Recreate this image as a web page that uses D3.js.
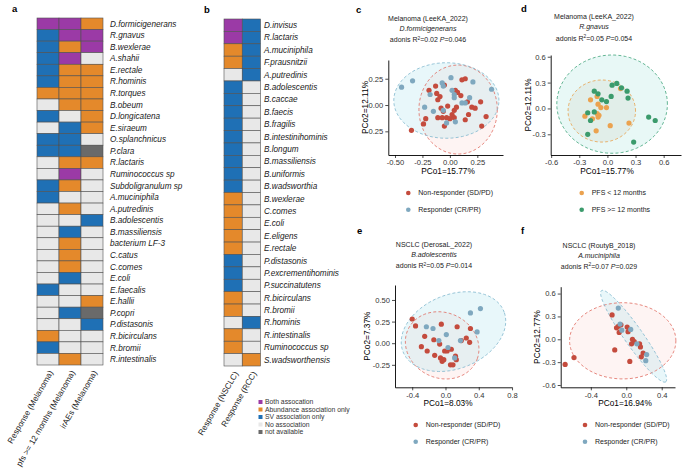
<!DOCTYPE html>
<html>
<head>
<meta charset="utf-8">
<script src="https://cdn.jsdelivr.net/npm/d3@7"></script>
<style>
  body { margin: 0; background: #fff; }
  svg { font-family: Arial, "Liberation Sans", sans-serif; }
</style>
</head>
<body>
<svg id="fig" width="685" height="469"></svg>
<script>
// ---------------- panel a : melanoma heatmap ----------------
// codes: P both, O abundance only, B SV only, G no association, D not available
const speciesA = ['D.formicigenerans', 'R.gnavus', 'B.wexlerae', 'A.shahii', 'E.rectale', 'R.hominis',
  'R.torques', 'B.obeum', 'D.longicatena', 'E.siraeum', 'O.splanchnicus', 'P.clara', 'R.lactaris',
  'Ruminococcus sp', 'Subdoligranulum sp', 'A.muciniphila', 'A.putredinis', 'B.adolescentis',
  'B.massiliensis', 'bacterium LF-3', 'C.catus', 'C.comes', 'E.coli', 'E.faecalis', 'E.hallii',
  'P.copri', 'P.distasonis', 'R.bicirculans', 'R.bromii', 'R.intestinalis'];
const columnsA = ['Response (Melanoma)', 'pfs >= 12 months (Melanoma)', 'irAEs (Melanoma)'];
const respMelanoma = ['P','B','B','B','B','B','O','G','B','G','B','B','G','G','B',
                      'B','G','G','G','G','G','G','G','B','G','G','G','O','B','G'];
const pfsMelanoma  = ['P','P','O','P','O','O','O','O','G','B','B','B','O','P','O',
                      'G','O','G','B','O','O','O','B','G','G','B','G','G','G','O'];
const iraeMelanoma = ['O','P','P','G','O','O','O','O','O','O','G','D','O','G','G',
                      'G','G','B','G','G','G','G','G','G','O','D','B','G','G','G'];

// ---------------- panel b : NSCLC / RCC heatmap ----------------
const speciesB = ['D.invisus', 'R.lactaris', 'A.muciniphila', 'F.prausnitzii', 'A.putredinis',
  'B.adolescentis', 'B.caccae', 'B.faecis', 'B.fragilis', 'B.intestinihominis', 'B.longum',
  'B.massiliensis', 'B.uniformis', 'B.wadsworthia', 'B.wexlerae', 'C.comes', 'E.coli', 'E.eligens',
  'E.rectale', 'P.distasonis', 'P.excrementihominis', 'P.succinatutens', 'R.bicirculans', 'R.bromii',
  'R.hominis', 'R.intestinalis', 'Ruminococcus sp', 'S.wadsworthensis'];
const columnsB = ['Response (NSCLC)', 'Response (RCC)'];
const respNSCLC = ['P','P','O','O','G','B','B','B','B','B','B','B','B','B',
                   'O','O','O','O','O','B','B','B','O','O','G','O','O','G'];
const respRCC   = ['B','B','B','B','B','G','G','G','G','G','G','G','G','G',
                   'G','G','G','G','G','G','G','G','G','G','B','G','G','O'];

const assocCodes  = ['P', 'O', 'B', 'G', 'D'];
const assocLabels = ['Both assocation', 'Abundance association only', 'SV association only',
                     'No association', 'not available'];

// ---------------- panels c-f : PCoA scatter (PCo1, PCo2) ----------------
const cNonResponder = [[-0.19,0.14],[-0.13,0.18],[-0.12,0.11],[-0.05,0.19],[-0.09,0.08],[0.05,0.14],
  [0.07,0.12],[0.11,0.24],[0.14,0.25],[-0.11,0.05],[-0.08,-0.03],[-0.06,-0.06],[-0.02,-0.01],
  [0.04,-0.05],[0.10,0.09],[0.16,0.03],[0.20,-0.02],[0.23,-0.03],[0.28,0.03],[0.14,-0.14],
  [0.02,-0.09],[-0.11,-0.12],[-0.07,-0.12],[-0.03,-0.12],[0.00,-0.13],[0.04,-0.12],[-0.22,-0.13],
  [-0.24,-0.18],[-0.35,-0.24],[-0.05,-0.20],[0.29,-0.20],[0.33,-0.11],[0.17,-0.09],[0.06,-0.02]];
const cResponder = [[-0.44,0.17],[-0.34,0.23],[-0.18,0.10],[-0.07,0.21],[-0.06,0.18],[0.01,0.26],
  [0.02,0.14],[0.04,0.10],[0.04,0.07],[0.11,0.02],[0.14,0.02],[0.18,0.07],[0.21,0.22],[0.38,0.15],
  [-0.23,-0.02],[-0.15,-0.06],[-0.06,-0.05],[-0.03,-0.17],[0.05,-0.16]];

const dPfsShort = [[-0.18,0.10],[-0.11,0.14],[-0.10,0.05],[-0.07,0.01],[-0.11,-0.06],[-0.10,-0.10],
  [-0.24,-0.09],[-0.16,-0.12],[-0.01,0.01],[-0.12,-0.26],[0.03,-0.20],[0.14,0.23],[0.23,-0.17],
  [-0.09,-0.08]];
const dPfsLong = [[-0.14,0.20],[-0.10,0.17],[-0.06,0.10],[-0.01,0.08],[0.04,0.14],[0.05,0.27],
  [0.10,0.29],[0.15,0.24],[0.21,0.20],[0.22,0.12],[-0.21,-0.05],[-0.18,-0.14],[-0.14,-0.04],
  [-0.21,-0.30],[0.44,-0.10],[0.51,-0.14],[0.28,-0.39]];

const eNonResponder = [[-0.40,0.28],[-0.36,0.20],[-0.05,0.22],[0.14,0.19],[0.30,0.17],[-0.25,0.08],
  [-0.14,0.04],[-0.29,-0.04],[-0.22,-0.09],[-0.07,-0.01],[-0.01,-0.09],[0.02,-0.09],[0.07,-0.07],
  [-0.13,-0.14],[-0.06,-0.17],[-0.04,-0.21],[-0.02,-0.19],[0.06,-0.25],[0.09,-0.25],[0.13,-0.19],
  [0.12,-0.15],[0.19,0.03],[0.25,0.06],[0.29,0.01]];
const eResponder = [[0.42,0.40],[0.30,0.35],[0.38,0.13],[-0.23,0.19],[-0.15,0.17],[0.01,0.10],
  [-0.08,0.03],[0.03,-0.05],[0.18,0.03],[0.11,-0.17]];

const fNonResponder = [[-0.16,0.32],[-0.11,0.15],[-0.09,0.17],[-0.06,0.19],[-0.08,0.09],[0.01,0.16],
  [0.02,0.10],[0.07,0.00],[0.09,-0.03],[0.06,-0.06],[0.15,-0.06],[0.16,-0.10],[0.19,-0.18],
  [0.17,-0.23],[-0.13,-0.14],[0.04,-0.29],[-0.59,-0.24],[-0.69,-0.33]];
const fResponder = [[-0.09,0.41],[-0.05,0.12],[0.05,0.13],[0.12,-0.06],[0.23,-0.20],[0.22,-0.28],
  [-0.07,0.20]];

// 95% ellipses: centre, semi-axes, rotation (deg)
const cEllipses = [[0.075,-0.043,0.357,0.423,0], [-0.032,0.043,0.479,0.359,0]];
const dEllipses = [[-0.06,-0.03,0.36,0.36,0], [0.05,0.05,0.59,0.57,0]];
const eEllipses = [[-0.04,-0.025,0.45,0.38,-20], [0.096,0.134,0.65,0.43,20]];
const fEllipses = [[-0.04,-0.02,0.60,0.50,0], [0.083,0.04,0.70,0.11,-59]];

const respLabels = ['Non-responder (SD/PD)', 'Responder (CR/PR)'];
const pfsLabels = ['PFS < 12 months', 'PFS >= 12 months'];

// ------------------------------------------------------------
const svg = d3.select('#fig');
const assocColor = d3.scaleOrdinal()
  .domain(assocCodes)
  .range(['#9b3aa6', '#e4892b', '#1f70b5', '#e8e8e8', '#6a6a6a']);

function drawHeat(species, columns, values, x0, x1, y0, y1, labelX) {
  const g = svg.append('g');
  const x = d3.scaleBand().domain(columns).range([x0, x1]);
  const y = d3.scaleBand().domain(species).range([y0, y1]);

  columns.forEach((col, ci) => {
    g.selectAll(null)
      .data(species)
      .enter().append('rect')
      .attr('x', x(col))
      .attr('y', d => y(d))
      .attr('width', x.bandwidth())
      .attr('height', y.bandwidth())
      .attr('fill', (d, i) => assocColor(values[ci][i]))
      .attr('stroke', '#505050')
      .attr('stroke-width', 0.6);
  });

  g.selectAll(null)
    .data(species)
    .enter().append('text')
    .attr('x', labelX)
    .attr('y', d => y(d) + y.bandwidth() / 2)
    .attr('dy', '0.35em')
    .style('font-size', '8.2px')
    .style('font-style', 'italic')
    .style('fill', '#1a1a1a')
    .text(d => d);

  // rotated column names under the grid
  g.selectAll(null)
    .data(columns)
    .enter().append('text')
    .attr('transform', d => `translate(${x(d) + x.bandwidth() / 2 + 3},${y1 + 6}) rotate(-60)`)
    .attr('text-anchor', 'end')
    .attr('dy', '0.35em')
    .style('font-size', '8.2px')
    .style('fill', '#1a1a1a')
    .text(d => d);
}

drawHeat(speciesA, columnsA, [respMelanoma, pfsMelanoma, iraeMelanoma], 37, 103, 18, 365, 110);
drawHeat(speciesB, columnsB, [respNSCLC, respRCC], 224, 260.5, 19, 366, 264);

// heatmap legend
const legA = svg.append('g');
assocCodes.forEach((c, i) => {
  legA.append('rect')
    .attr('x', 258.5).attr('y', 400 + i * 7.5)
    .attr('width', 4).attr('height', 4)
    .attr('fill', assocColor(c));
  legA.append('text')
    .attr('x', 265).attr('y', 402 + i * 7.5)
    .attr('dy', '0.35em')
    .style('font-size', '6.8px')
    .style('fill', '#333')
    .text(assocLabels[i]);
});

function ellipsePath(e, x, y) {
  const [cx, cy, a, b, deg] = e;
  const th = deg * Math.PI / 180;
  const pts = d3.range(0, 361, 4).map(t => {
    const r = t * Math.PI / 180;
    return [cx + a * Math.cos(r) * Math.cos(th) - b * Math.sin(r) * Math.sin(th),
            cy + a * Math.cos(r) * Math.sin(th) + b * Math.sin(r) * Math.cos(th)];
  });
  return d3.line().x(d => x(d[0])).y(d => y(d[1]))(pts) + 'Z';
}

function drawPcoa(p) {
  const g = svg.append('g');
  const x = d3.scaleLinear().domain(p.xDomain).range([p.left, p.right]);
  const y = d3.scaleLinear().domain(p.yDomain).range([p.bottom, p.top]);

  // titles
  p.titles.forEach((t, i) => {
    const tx = g.append('text')
      .attr('x', p.titleX).attr('y', p.titleY[i])
      .attr('text-anchor', 'middle')
      .style('font-size', '7px')
      .style('fill', '#1a1a1a');
    if (i === 1) tx.style('font-style', 'italic').text(t);
    else if (i === 2) {
      tx.append('tspan').text('adonis R');
      tx.append('tspan').attr('dy', -2.5).style('font-size', '4.8px').text('2');
      tx.append('tspan').attr('dy', 2.5).text('=' + t[0] + ' ');
      tx.append('tspan').style('font-style', 'italic').text('P');
      tx.append('tspan').text('=' + t[1]);
    } else tx.text(t);
  });

  // ellipses
  p.groups.forEach(gr => {
    g.append('path')
      .attr('d', ellipsePath(gr.ell, x, y))
      .attr('fill', gr.fill)
      .attr('fill-opacity', gr.fillOpacity)
      .attr('stroke', 'none');
  });
  p.groups.forEach(gr => {
    g.append('path')
      .attr('d', ellipsePath(gr.ell, x, y))
      .attr('fill', 'none')
      .attr('stroke', gr.line)
      .attr('stroke-width', 0.8)
      .attr('stroke-dasharray', '3,2.2');
  });

  // points
  p.groups.forEach(gr => {
    g.selectAll(null)
      .data(gr.points)
      .enter().append('circle')
      .attr('cx', d => x(d[0]))
      .attr('cy', d => y(d[1]))
      .attr('r', 2.6)
      .attr('fill', gr.color);
  });

  // axes
  const fmt = d => d.toFixed(p.digits);
  const xAxisG = g.append('g')
    .attr('transform', `translate(0,${p.bottom})`)
    .call(d3.axisBottom(x).tickValues(p.xTicks).tickFormat(fmt).tickSize(3).tickSizeOuter(0));
  const yAxisG = g.append('g')
    .attr('transform', `translate(${p.left},0)`)
    .call(d3.axisLeft(y).tickValues(p.yTicks).tickFormat(d => d.toFixed(p.yDigits)).tickSize(3).tickSizeOuter(0));
  [xAxisG, yAxisG].forEach(a => {
    a.select('.domain').attr('stroke', '#000').attr('stroke-width', 0.9);
    a.selectAll('.tick line').attr('stroke', '#000').attr('stroke-width', 0.7);
    a.selectAll('.tick text')
      .style('font-size', '7.6px')
      .style('font-family', 'Arial, "Liberation Sans", sans-serif')
      .attr('fill', '#333');
  });
  xAxisG.selectAll('.tick text').attr('y', 5);
  yAxisG.selectAll('.tick text').attr('x', -5);

  g.append('text')
    .attr('x', p.xLabelX).attr('y', p.bottom + 19)
    .attr('text-anchor', 'middle')
    .style('font-size', '8.3px')
    .text(p.xLabel);
  g.append('text')
    .attr('transform', `translate(${p.yLabelX},${(p.top + p.bottom) / 2}) rotate(-90)`)
    .attr('text-anchor', 'middle')
    .style('font-size', '8.3px')
    .text(p.yLabel);

  // legend
  p.groups.forEach((gr, i) => {
    g.append('circle')
      .attr('cx', p.legX).attr('cy', p.legY + i * 16.7)
      .attr('r', 2.3).attr('fill', gr.color);
    g.append('text')
      .attr('x', p.legX + 10).attr('y', p.legY + i * 16.7)
      .attr('dy', '0.35em')
      .style('font-size', '7px')
      .style('fill', '#1a1a1a')
      .text(gr.label);
  });
}

const red = '#c44b3d', blue = '#7fa8bf';
const respGroups = (pts, ells) => [
  { label: respLabels[0], points: pts[0], ell: ells[0], color: red, line: '#e06a5e', fill: '#f3a3a0', fillOpacity: 0.12 },
  { label: respLabels[1], points: pts[1], ell: ells[1], color: blue, line: '#7fb6cd', fill: '#b3e6ee', fillOpacity: 0.3 }
];

drawPcoa({
  left: 388.3, right: 503, top: 60, bottom: 155,
  xDomain: [-0.561, 0.484], yDomain: [-0.475, 0.428],
  xTicks: [-0.5, -0.25, 0, 0.25], yTicks: [-0.25, 0, 0.25], digits: 2, yDigits: 2,
  titles: ['Melanoma (LeeKA_2022)', 'D.formicigenerans', ['0.02', '0.046']],
  titleX: 428, titleY: [20.5, 30.5, 42],
  xLabel: 'PCo1=15.77%', yLabel: 'PCo2=12.11%', xLabelX: 448, yLabelX: 368,
  legX: 408.3, legY: 193,
  groups: respGroups([cNonResponder, cResponder], cEllipses)
});

drawPcoa({
  left: 550.7, right: 681, top: 55, bottom: 155,
  xDomain: [-0.605, 0.785], yDomain: [-0.54, 0.62],
  xTicks: [-0.6, -0.3, 0, 0.3, 0.6], yTicks: [-0.3, 0, 0.3, 0.6], digits: 1, yDigits: 1,
  titles: ['Melanoma (LeeKA_2022)', 'R.gnavus', ['0.05', '0.054']],
  titleX: 594, titleY: [19, 29, 40.5],
  xLabel: 'PCo1=15.77%', yLabel: 'PCo2=12.11%', xLabelX: 607, yLabelX: 531,
  legX: 581.7, legY: 193,
  groups: [
    { label: pfsLabels[0], points: dPfsShort, ell: dEllipses[0], color: '#eba24f', line: '#e9a04a', fill: '#d9c7b4', fillOpacity: 0.25 },
    { label: pfsLabels[1], points: dPfsLong, ell: dEllipses[1], color: '#3b9b6c', line: '#3fa37a', fill: '#b3e8e2', fillOpacity: 0.3 }
  ]
});

drawPcoa({
  left: 395, right: 511.7, top: 285, bottom: 387.3,
  xDomain: [-0.607, 0.796], yDomain: [-0.51, 0.673],
  xTicks: [-0.4, 0, 0.4, 0.8], yTicks: [-0.25, 0, 0.25, 0.5], digits: 1, yDigits: 2,
  titles: ['NSCLC (DerosaL_2022)', 'B.adolescentis', ['0.05', '0.014']],
  titleX: 434, titleY: [246.5, 256.5, 268],
  xLabel: 'PCo1=8.03%', yLabel: 'PCo2=7.37%', xLabelX: 448, yLabelX: 370,
  legX: 415.7, legY: 425,
  groups: respGroups([eNonResponder, eResponder], eEllipses)
});

drawPcoa({
  left: 560.7, right: 675, top: 286.7, bottom: 387.3,
  xDomain: [-0.74, 0.55], yDomain: [-0.63, 0.69],
  xTicks: [-0.4, 0, 0.4], yTicks: [-0.6, -0.3, 0, 0.3, 0.6], digits: 1, yDigits: 1,
  titles: ['NSCLC (RoutyB_2018)', 'A.muciniphila', ['0.07', '0.029']],
  titleX: 599, titleY: [247.5, 257.5, 268.5],
  xLabel: 'PCo1=16.94%', yLabel: 'PCo2=12.77%', xLabelX: 625, yLabelX: 540,
  legX: 585, legY: 425,
  groups: respGroups([fNonResponder, fResponder], fEllipses)
});

// panel letters
const panelLetters = ['a', 'b', 'c', 'd', 'e', 'f'];
const letterPos = [[12, 12], [204, 13], [356, 13], [521, 12], [357, 234], [521, 234]];
svg.selectAll('text.letter')
  .data(panelLetters)
  .enter().append('text')
  .attr('class', 'letter')
  .attr('x', (d, i) => letterPos[i][0])
  .attr('y', (d, i) => letterPos[i][1])
  .style('font-size', '9.5px')
  .style('font-weight', 'bold')
  .text(d => d);
</script>
</body>
</html>
